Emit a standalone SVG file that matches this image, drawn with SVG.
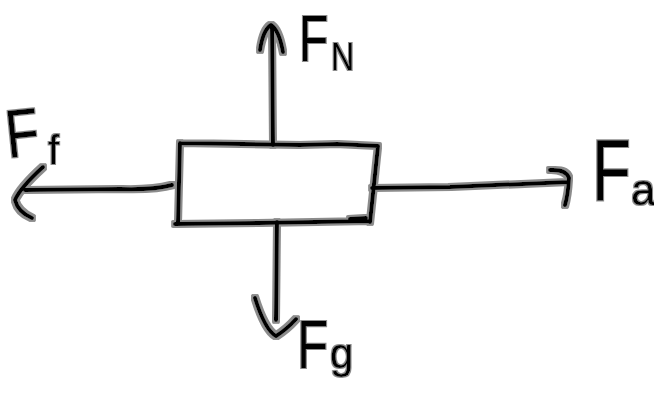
<svg xmlns="http://www.w3.org/2000/svg" width="654" height="399" viewBox="0 0 654 399">
<defs>
<filter id="halo" filterUnits="userSpaceOnUse" x="0" y="0" width="654" height="399">
<feMorphology in="SourceAlpha" operator="dilate" radius="2" result="d"/>
<feFlood flood-color="#8c8c8c"/>
<feComposite in2="d" operator="in" result="h"/>
<feMerge><feMergeNode in="h"/><feMergeNode in="SourceGraphic"/></feMerge>
</filter>
<filter id="halo2" filterUnits="userSpaceOnUse" x="0" y="0" width="654" height="399">
<feMorphology in="SourceAlpha" operator="dilate" radius="1.3" result="d"/>
<feFlood flood-color="#8c8c8c"/>
<feComposite in2="d" operator="in" result="h"/>
<feMerge><feMergeNode in="h"/><feMergeNode in="SourceGraphic"/></feMerge>
</filter>
<style>
.ink{fill:none;stroke:#000;stroke-width:4;stroke-linecap:round;stroke-linejoin:round}
.lbl{font-family:"Liberation Sans",Arial,sans-serif;fill:#000}
</style>
</defs>
<rect width="654" height="399" fill="#fff"/>
<g filter="url(#halo)">
<g id="block">
<path class="ink" d="M180,143 L300,145 L337,144 L378,146 L370,222 M180,143 L178,222 M175,224 L260,223 L370,221 M350,219 L366,218"/>
</g>
<g id="connectors">
<path id="arrow-N" class="ink" d="M273,145 L272,26 M260,50 Q263,30 271,25 Q279,30 283,52"/>
<path id="arrow-f" class="ink" d="M172,185 Q155,190 120,189 L25,190 M43,167 Q20,188 15,200 Q18,212 32,218"/>
<path id="arrow-a" class="ink" d="M372,188 L450,187 L568,182 M550,170 Q566,169 569,178 Q568,195 565,205"/>
<path id="arrow-g" class="ink" d="M277,222 L276,320 M255,298 Q265,330 276,336 Q286,330 296,319"/>
</g>
</g>
<g filter="url(#halo2)">
<g id="label-FN"><text class="lbl" transform="translate(299,61) scale(0.75,1)" font-size="64">F</text><text class="lbl" transform="translate(331,70) scale(0.85,1)" font-size="38">N</text></g>
<g id="label-Ff"><text class="lbl" transform="translate(8,158) rotate(-6) scale(0.8,1)" font-size="68">F</text><text class="lbl" transform="translate(48,164)" font-size="40">f</text></g>
<g id="label-Fa"><text class="lbl" transform="translate(592,200) scale(0.72,1)" font-size="88">F</text><text class="lbl" transform="translate(631,205)" font-size="44">a</text></g>
<g id="label-Fg"><text class="lbl" transform="translate(297,368) scale(0.75,1)" font-size="68">F</text><text class="lbl" transform="translate(330,368)" font-size="42">g</text></g>
</g>
</svg>
